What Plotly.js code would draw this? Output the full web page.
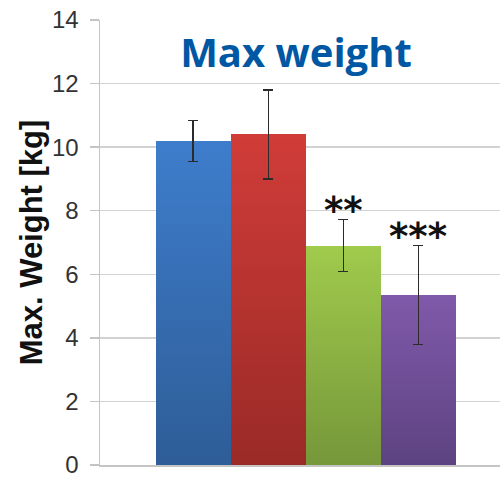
<!DOCTYPE html>
<html>
<head>
<meta charset="utf-8">
<script src="https://cdn.plot.ly/plotly-3.0.1.min.js"></script>
<style>html,body{margin:0;padding:0;background:#fff;}#chart{width:500px;height:479px;}</style>
</head>
<body>
<div id="chart"></div>
<script>
// Data
var groups = ["Group 1", "Group 2", "Group 3", "Group 4"];
var maxWeight = [10.2, 10.4, 6.9, 5.35];
var errors = [0.65, 1.4, 0.82, 1.55];
var significance = ["", "", "**", "***"];
var yTicks = [0, 2, 4, 6, 8, 10, 12, 14];

// Styles
var barColors = ["#3670b6", "#b8342f", "#8cb643", "#6f4f98"];
var gradTop = ["#3e7dcc", "#d03c38", "#a0cb4c", "#8059aa"];
var gradBottom = ["#2e5d97", "#9a2a27", "#76973a", "#5d4381"];

var trace = {
  type: "bar",
  x: groups,
  y: maxWeight,
  width: 1,
  marker: { color: barColors, line: { width: 0 } },
  error_y: { type: "data", array: errors, visible: true, color: "#2b2b2b", thickness: 1.2, width: 5 },
  hoverinfo: "none"
};

var annotations = [];
for (var i = 0; i < groups.length; i++) {
  if (significance[i]) {
    annotations.push({
      x: groups[i], y: maxWeight[i] + errors[i], xref: "x", yref: "y",
      text: "<b>" + significance[i] + "</b>", showarrow: false, yanchor: "bottom", yshift: -14,
      font: { family: "DejaVu Sans", size: 37, color: "#111" }
    });
  }
}

var layout = {
  width: 500, height: 479,
  margin: { l: 100, r: 0, t: 20, b: 14 },
  paper_bgcolor: "#fff", plot_bgcolor: "#fff",
  showlegend: false,
  bargap: 0,
  title: {
    text: "<b>Max weight</b>",
    x: 0.592, xanchor: "center", xref: "container",
    y: 0.89, yanchor: "middle", yref: "container",
    font: { family: "Open Sans", size: 40, color: "#0057a3" }
  },
  xaxis: {
    range: [-1.24, 4.09],
    showticklabels: false, ticks: "",
    showgrid: false, zeroline: false,
    showline: true, linecolor: "#c4c4c4", linewidth: 1.5
  },
  yaxis: {
    range: [0, 14], tickvals: yTicks,
    ticks: "outside", ticklen: 9, tickcolor: "#c4c4c4", tickwidth: 1.5,
    ticklabelstandoff: 6, ticklabeloverflow: "allow",
    showline: true, linecolor: "#c4c4c4", linewidth: 1.5,
    gridcolor: "#d2d2d2", gridwidth: 1.5, zeroline: false,
    tickfont: { family: "Liberation Sans, Arial", size: 24, color: "#333" },
    title: { text: "<b>Max. Weight [kg]</b>", standoff: 0,
      font: { family: "Liberation Sans, Arial", size: 31, color: "#111" } }
  },
  annotations: annotations
};

Plotly.newPlot("chart", [trace], layout, { displayModeBar: false, staticPlot: true }).then(function (gd) {
  var svg = gd.querySelector(".main-svg");
  var ns = "http://www.w3.org/2000/svg";
  var defs = svg.querySelector("defs") || svg.insertBefore(document.createElementNS(ns, "defs"), svg.firstChild);
  for (var k = 0; k < gradTop.length; k++) {
    var lg = document.createElementNS(ns, "linearGradient");
    lg.setAttribute("id", "barGrad" + k);
    lg.setAttribute("x1", "0"); lg.setAttribute("y1", "0");
    lg.setAttribute("x2", "0"); lg.setAttribute("y2", "1");
    var s1 = document.createElementNS(ns, "stop");
    s1.setAttribute("offset", "0"); s1.setAttribute("stop-color", gradTop[k]);
    var s2 = document.createElementNS(ns, "stop");
    s2.setAttribute("offset", "1"); s2.setAttribute("stop-color", gradBottom[k]);
    lg.appendChild(s1); lg.appendChild(s2);
    defs.appendChild(lg);
  }
  var paths = gd.querySelectorAll(".trace.bars .point path");
  paths.forEach(function (p, idx) { p.style.fill = "url(#barGrad" + idx + ")"; });
});
</script>
</body>
</html>
